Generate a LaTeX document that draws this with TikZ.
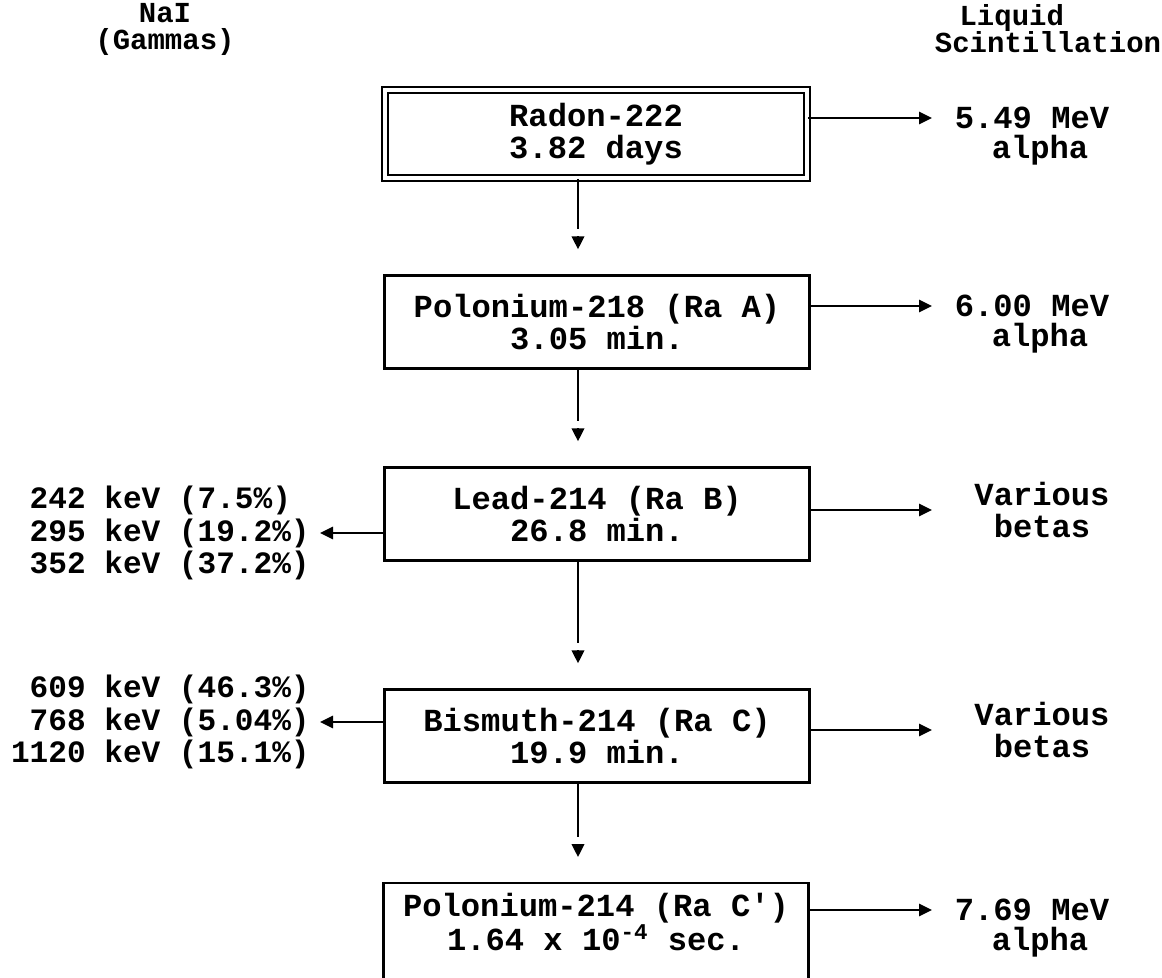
\documentclass[tikz,border=0pt]{standalone}
\usepackage{fontspec}
\setmainfont{Liberation Mono}
\usetikzlibrary{arrows.meta,positioning}
\tikzset{
	chaintext/.style = {align=center, inner sep=0pt, font=\bfseries\fontsize{18.3}{18.3}\selectfont},
	gammatext/.style = {align=left, inner sep=0pt, anchor=east, font=\bfseries\fontsize{17.7}{18.3}\selectfont},
	decaybox/.style = {chaintext, draw=black, line width=1.5pt, minimum width=8.51cm, minimum height=1.87cm},
	parentbox/.style = {chaintext, draw=black, double, line width=1pt, double distance=2.6pt, minimum width=8.44cm, minimum height=1.76cm},
	header/.style = {align=center, inner sep=0pt, font=\bfseries\fontsize{16.5}{15.4}\selectfont},
	decay/.style = {line width=1.5pt, shorten >=25.6pt},
	decaytip/.style = {line width=1.5pt, -{Triangle[length=7.4pt, width=7pt]}, shorten >=14pt},
	emit/.style = {line width=1.2pt, -{Triangle[length=7.4pt, width=7pt]}},
}

\begin{document}
\begin{tikzpicture}[x=0.02cm, y=-0.02cm]
	\clip (0,0) rectangle (1162,977);
	\fill[white] (0,0) rectangle (1162,977);
	\coordinate (spine) at (578,0);
	\coordinate (rtip) at (932,0);
	\coordinate (ltip) at (320,0);

	% column heads
	\node[header] (nai) at (165,29) {NaI\\(Gammas)};
	\node[header, align=left] (lsc) at (1048,29) {\hspace*{0.85em}Liquid\\Scintillation};

	% decay chain
	\node[parentbox] (rn222) at (596,134) {Radon-222\\3.82 days};
	\node[decaybox] (po218) at (597,322) {Polonium-218 (Ra A)\\3.05 min.};
	\node[decaybox] (pb214) at (597,514) {Lead-214 (Ra B)\\26.8 min.};
	\node[decaybox] (bi214) at (597,736) {Bismuth-214 (Ra C)\\19.9 min.};
	\node[decaybox, minimum height=2.2cm] (po214) at (596,938) {Polonium-214 (Ra C\textquotesingle)\\1.64 x 10\textsuperscript{-4} sec.\\\mbox{}};

	% liquid scintillation side
	\node[chaintext] (mev1) at (1032,118) {5.49 MeV};
	\node[chaintext] (alpha1) at (1040,150) {alpha};
	\node[chaintext] (mev2) at (1032,306) {6.00 MeV};
	\node[chaintext] (alpha2) at (1040,338) {alpha};
	\node[chaintext] (beta1) at (1042,510) {Various\\betas};
	\node[chaintext] (beta2) at (1042,730) {Various\\betas};
	\node[chaintext] (mev3) at (1032,910) {7.69 MeV};
	\node[chaintext] (alpha3) at (1040,942) {alpha};

	% NaI side
	\node[gammatext] (gam1) at (310,533) {242 keV (7.5\%)\\295 keV (19.2\%)\\352 keV (37.2\%)};
	\node[gammatext] (gam2) at (310,722) {\phantom{1}609 keV (46.3\%)\\\phantom{1}768 keV (5.04\%)\\1120 keV (15.1\%)};

	\draw[decay] (rn222.south -| spine) -- (po218.north -| spine);
	\draw[decaytip] ([yshift=21.4pt]po218.north -| spine) -- (po218.north -| spine);
	\draw[decay] (po218.south -| spine) -- (pb214.north -| spine);
	\draw[decaytip] ([yshift=21.4pt]pb214.north -| spine) -- (pb214.north -| spine);
	\draw[decay] (pb214.south -| spine) -- (bi214.north -| spine);
	\draw[decaytip] ([yshift=21.4pt]bi214.north -| spine) -- (bi214.north -| spine);
	\draw[decay] (bi214.south -| spine) -- (po214.north -| spine);
	\draw[decaytip] ([yshift=21.4pt]po214.north -| spine) -- (po214.north -| spine);

	\draw[emit] (rn222.east |- mev1) -- (mev1 -| rtip);
	\draw[emit] (po218.east |- mev2) -- (mev2 -| rtip);
	\draw[emit] (pb214.east |- beta1) -- (beta1 -| rtip);
	\draw[emit] (bi214.east |- beta2) -- (beta2 -| rtip);
	\draw[emit] (po214.east |- mev3) -- (mev3 -| rtip);
	\draw[emit] (pb214.west |- gam1) -- (gam1 -| ltip);
	\draw[emit] (bi214.west |- gam2) -- (gam2 -| ltip);
\end{tikzpicture}
\end{document}
